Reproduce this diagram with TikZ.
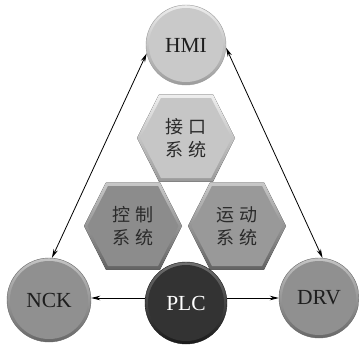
\documentclass[tikz,border=0pt]{standalone}
\usepackage{fontspec}
\setmainfont{Liberation Serif}
\newfontfamily\cjk{Noto Sans CJK SC}
\usetikzlibrary{arrows.meta}

% colour palette
\definecolor{hmiBase}{HTML}{C9C9C9}
\definecolor{hmiLight}{HTML}{EDEDED}
\definecolor{hmiDark}{HTML}{9C9C9C}
\definecolor{midBase}{HTML}{909090}
\definecolor{midLight}{HTML}{C4C4C4}
\definecolor{midDark}{HTML}{686868}
\definecolor{plcBase}{HTML}{333333}
\definecolor{plcLight}{HTML}{707070}
\definecolor{plcDark}{HTML}{1A1A1A}
\definecolor{hexTopBase}{HTML}{C6C6C6}
\definecolor{hexTopLight}{HTML}{EEEEEE}
\definecolor{hexTopDark}{HTML}{9A9A9A}
\definecolor{hexLBase}{HTML}{8C8C8C}
\definecolor{hexRBase}{HTML}{999999}
\definecolor{hexLight}{HTML}{C8C8C8}
\definecolor{hexDark}{HTML}{626262}
\definecolor{ink}{HTML}{1E1E1E}
\definecolor{hexInk}{HTML}{2A2A2A}

\tikzset{
  disc/.style n args={4}{% radius, base, light, dark
    circle, inner sep=0pt, minimum size=2*#1,
    top color=#3, bottom color=#4, draw=#4, line width=0.4pt,
    path picture={\fill[#2] (path picture bounding box.center) circle ({#1-3pt});}},
  latin/.style={font=\fontsize{21.5}{24}\selectfont, text=ink},
  hextext/.style={font=\cjk\fontsize{18}{23}\selectfont, text=hexInk, align=center, inner sep=0pt},
  link/.style={draw=black, line width=0.8pt},
  tip/.style={-{Stealth[length=9pt,width=4.5pt]}},
  tips/.style={{Stealth[length=9pt,width=4.5pt]}-{Stealth[length=9pt,width=4.5pt]}}
}

% bevelled hexagon: centre, face, rim light, rim dark
\newcommand\hexcell[4]{%
  \begin{scope}[shift={#1}]
    \fill[top color=#3, bottom color=#4]
      (-49,0)--(-27,-43.5)--(27,-43.5)--(49,0)--(27,43.5)--(-27,43.5)--cycle;
    \fill[#2]
      (-45.5,0)--(-25,-40)--(25,-40)--(45.5,0)--(25,40)--(-25,40)--cycle;
  \end{scope}}

\begin{document}
\begin{tikzpicture}[x=1pt,y=-1pt]
  \useasboundingbox (0,0) rectangle (359,349);
  \fill[white] (0,0) rectangle (359,349);

  % hexagon cluster
  \hexcell{(186,138)}{hexTopBase}{hexTopLight}{hexTopDark}
  \hexcell{(133,226)}{hexLBase}{hexLight}{hexDark}
  \hexcell{(237,226)}{hexRBase}{hexLight}{hexDark}
  \node[hextext] (ifc) at (186,138.5) {接\hspace{5pt}口\\系\hspace{5pt}统};
  \node[hextext] (ctl) at (133,226.5) {控\hspace{5pt}制\\系\hspace{5pt}统};
  \node[hextext] (mot) at (237,226.5) {运\hspace{5pt}动\\系\hspace{5pt}统};

  % units
  \node[disc={40pt}{hmiBase}{hmiLight}{hmiDark}, latin] (hmi) at (186,45) {HMI};
  \node[disc={42pt}{midBase}{midLight}{midDark}, latin] (nck) at (49,300) {NCK};
  \node[disc={40pt}{midBase}{midLight}{midDark}, latin] (drv) at (319,298) {DRV};
  \node[disc={41pt}{plcBase}{plcLight}{plcDark}, latin, text=white] (plc) at (186,303) {PLC};

  % links
  \draw[link,tips] (hmi.192) -- (nck.86);
  \draw[link,tips] (hmi.356) -- (drv.85);
  \draw[link,tip] (plc.west |- 0,298) -- (nck.east |- 0,298);
  \draw[link,tip] (plc.east |- 0,298) -- (drv.west |- 0,298);
\end{tikzpicture}
\end{document}
